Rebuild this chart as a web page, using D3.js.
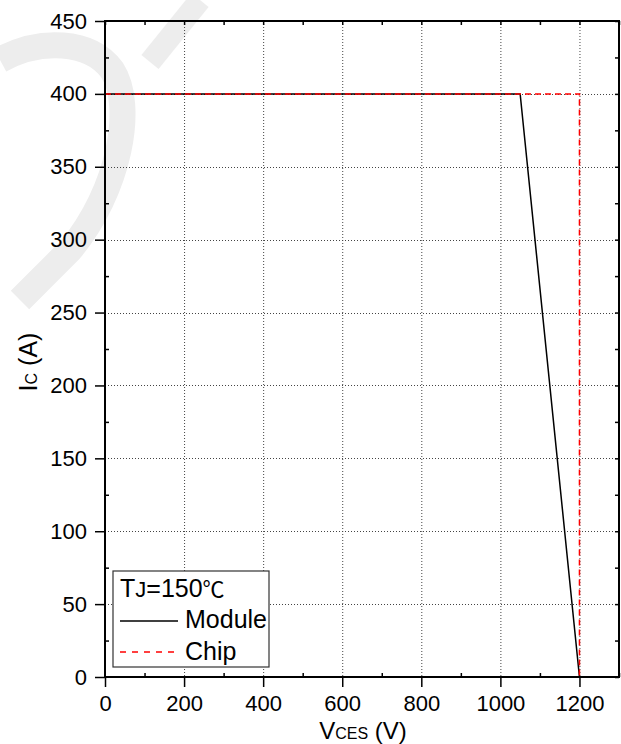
<!DOCTYPE html>
<html>
<head>
<meta charset="utf-8">
<script src="https://cdn.jsdelivr.net/npm/d3@7"></script>
<style>
  html, body { margin: 0; padding: 0; background: #fff; }
  svg { display: block; font-family: "Liberation Sans", Arial, sans-serif; }
</style>
</head>
<body>
<svg id="chart" width="621" height="744"></svg>
<script>
// Safe operating area: collector current vs collector-emitter voltage
const xTicks = [0, 200, 400, 600, 800, 1000, 1200];
const xMinor = [100, 300, 500, 700, 900, 1100, 1300];
const yTicks = [0, 50, 100, 150, 200, 250, 300, 350, 400, 450];
const yMinor = [25, 75, 125, 175, 225, 275, 325, 375, 425];
const xGrid = [200, 400, 600, 800, 1000, 1200];
const yGrid = [50, 100, 150, 200, 250, 300, 350, 400];

const moduleV = [0, 1050, 1200];
const moduleI = [400, 400, 0];
const chipV = [0, 1200, 1200];
const chipI = [400, 400, 0];

const legendTitle = "T";
const legendTitleSub = "J";
const legendTitleRest = "=150";
const legendTitleUnit = "℃";
const seriesNames = ["Module", "Chip"];

const svg = d3.select("#chart");
const L = 105, R = 619, T = 21, B = 677;
const x = d3.scaleLinear().domain([0, 1300]).range([L, R]);
const y = d3.scaleLinear().domain([0, 450]).range([B, T]);

// faint watermark in the upper-left corner
const wm = svg.append("g").attr("fill", "none").attr("stroke", "#ededed")
  .attr("stroke-linecap", "butt");
wm.append("path").attr("stroke-width", 26)
  .attr("d", "M0,60 C40,38 90,40 112,70 C135,105 120,190 70,250 L20,300");
wm.append("path").attr("stroke-width", 22)
  .attr("d", "M150,62 L200,0");

// grid
const grid = svg.append("g").attr("stroke", "#444").attr("stroke-width", 1)
  .attr("stroke-dasharray", "1,2");
grid.selectAll("line.v").data(xGrid).join("line").attr("class", "v")
  .attr("x1", d => x(d) + 0.5).attr("x2", d => x(d) + 0.5)
  .attr("y1", T).attr("y2", B);
grid.selectAll("line.h").data(yGrid).join("line").attr("class", "h")
  .attr("x1", L).attr("x2", R)
  .attr("y1", d => Math.round(y(d)) + 0.5).attr("y2", d => Math.round(y(d)) + 0.5);

// curves
const line = d3.line().x(d => x(d[0])).y(d => y(d[1]));
svg.append("path").datum(d3.zip(moduleV, moduleI))
  .attr("fill", "none").attr("stroke", "#000").attr("stroke-width", 1.5)
  .attr("d", line);
svg.append("path").datum(d3.zip(chipV, chipI))
  .attr("fill", "none").attr("stroke", "#ff0000").attr("stroke-width", 1.5)
  .attr("stroke-dasharray", "6,4")
  .attr("d", line);

// axes
function styleAxis(g) {
  g.select(".domain").remove();
  g.selectAll(".tick line").attr("stroke", "#000").attr("stroke-width", 1.5);
  g.selectAll(".tick text").attr("font-size", 22).attr("fill", "#000")
    .attr("font-family", "'Liberation Sans', Arial, sans-serif");
}
svg.append("g").attr("transform", `translate(0,${B})`)
  .call(d3.axisBottom(x).tickValues(xTicks).tickSize(10).tickPadding(8).tickFormat(d3.format("d")))
  .call(styleAxis);
svg.append("g").attr("transform", `translate(0,${B})`)
  .call(d3.axisBottom(x).tickValues(xMinor).tickSize(-4).tickFormat(""))
  .call(styleAxis);
svg.append("g").attr("transform", `translate(${L},0)`)
  .call(d3.axisLeft(y).tickValues(yTicks).tickSize(10).tickPadding(8).tickFormat(d3.format("d")))
  .call(styleAxis);
svg.append("g").attr("transform", `translate(${L},0)`)
  .call(d3.axisLeft(y).tickValues(yMinor).tickSize(-4).tickFormat(""))
  .call(styleAxis);
svg.append("g").attr("transform", `translate(0,${T})`)
  .call(d3.axisTop(x).tickValues(xTicks.concat(xMinor)).tickSize(-4).tickFormat(""))
  .call(styleAxis);
svg.append("g").attr("transform", `translate(${R},0)`)
  .call(d3.axisRight(y).tickValues(yTicks.concat(yMinor)).tickSize(-4).tickFormat(""))
  .call(styleAxis);

// frame
svg.append("rect").attr("x", L).attr("y", T).attr("width", R - L).attr("height", B - T)
  .attr("fill", "none").attr("stroke", "#000").attr("stroke-width", 2);

// axis titles
const xt = svg.append("text").attr("x", (L + R) / 2 + 1).attr("y", 739)
  .attr("text-anchor", "middle").attr("font-size", 24).attr("fill", "#000");
xt.append("tspan").text("V");
xt.append("tspan").attr("font-size", 16).text("CES");
xt.append("tspan").text(" (V)");

const yt = svg.append("text").attr("transform", "translate(37,362) rotate(-90)")
  .attr("text-anchor", "middle").attr("font-size", 25).attr("fill", "#000");
yt.append("tspan").text("I");
yt.append("tspan").attr("font-size", 16).text("C");
yt.append("tspan").text(" (A)");

// legend
const lg = svg.append("g");
lg.append("rect").attr("x", 113).attr("y", 571).attr("width", 156).attr("height", 96)
  .attr("fill", "#fff").attr("stroke", "#333").attr("stroke-width", 1.2);
const lt = lg.append("text").attr("x", 120).attr("y", 597).attr("font-size", 25).attr("fill", "#000");
lt.append("tspan").text(legendTitle);
lt.append("tspan").attr("font-size", 22).text(legendTitleSub);
lt.append("tspan").text(legendTitleRest);
lt.append("tspan").attr("font-family", "'Noto Sans CJK SC', sans-serif").attr("font-size", 22)
  .text(legendTitleUnit);
lg.append("line").attr("x1", 120).attr("x2", 178).attr("y1", 621).attr("y2", 621)
  .attr("stroke", "#000").attr("stroke-width", 1.5);
lg.append("text").attr("x", 185).attr("y", 628).attr("font-size", 25).attr("fill", "#000").text(seriesNames[0]);
lg.append("line").attr("x1", 120).attr("x2", 178).attr("y1", 652).attr("y2", 652)
  .attr("stroke", "#ff0000").attr("stroke-width", 1.5).attr("stroke-dasharray", "6,6");
lg.append("text").attr("x", 185).attr("y", 660).attr("font-size", 25).attr("fill", "#000").text(seriesNames[1]);
</script>
</body>
</html>
